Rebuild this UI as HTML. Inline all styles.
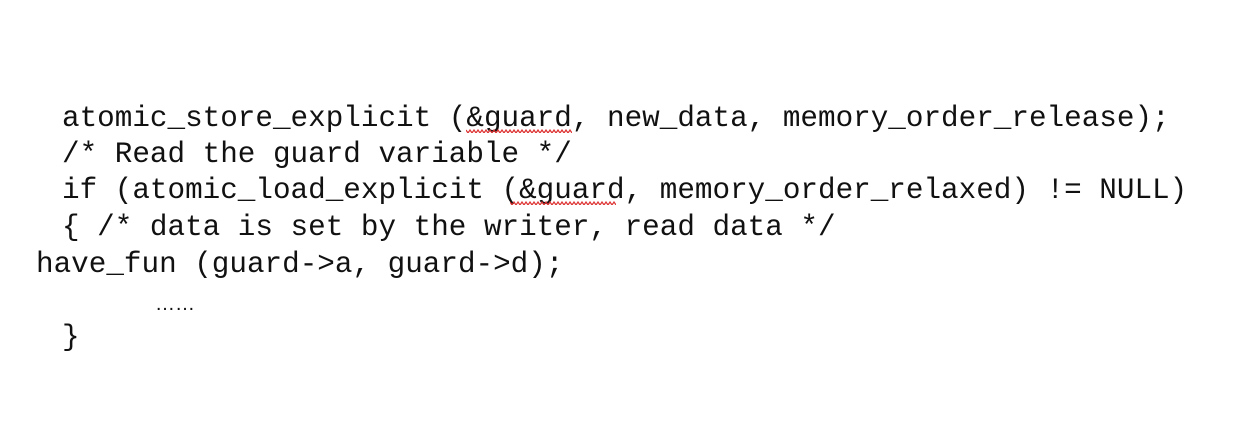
<!DOCTYPE html>
<html><head><style>
body{margin:0;width:1250px;height:424px;background:#fff;position:relative;overflow:hidden}
.l{position:absolute;font-family:"Liberation Mono",monospace;font-size:29.3px;line-height:36px;white-space:pre;color:#111}
.sq{position:absolute;height:4px}
</style></head><body>
<div class="l" style="left:62px;top:101px">atomic_store_explicit (&amp;guard, new_data, memory_order_release);</div>
<div class="l" style="left:62px;top:137px">/* Read the guard variable */</div>
<div class="l" style="left:62px;top:173px">if (atomic_load_explicit (&amp;guard, memory_order_relaxed) != NULL)</div>
<div class="l" style="left:62px;top:210px">{ /* data is set by the writer, read data */</div>
<div class="l" style="left:36px;top:247px">have_fun (guard-&gt;a, guard-&gt;d);</div>
<div style="position:absolute;left:155px;top:293px;font-family:'Liberation Sans',sans-serif;font-size:20px;color:#111">……</div>
<div class="l" style="left:62px;top:320px">}</div>
<svg class="sq" style="left:466px;top:129px" width="106" height="5"><polyline fill="none" stroke="#d33" stroke-width="1.2" points="0,1 2,4 4,1 6,4 8,1 10,4 12,1 14,4 16,1 18,4 20,1 22,4 24,1 26,4 28,1 30,4 32,1 34,4 36,1 38,4 40,1 42,4 44,1 46,4 48,1 50,4 52,1 54,4 56,1 58,4 60,1 62,4 64,1 66,4 68,1 70,4 72,1 74,4 76,1 78,4 80,1 82,4 84,1 86,4 88,1 90,4 92,1 94,4 96,1 98,4 100,1 102,4 104,1 106,4"/></svg>
<svg class="sq" style="left:510px;top:201px" width="106" height="5"><polyline fill="none" stroke="#d33" stroke-width="1.2" points="0,1 2,4 4,1 6,4 8,1 10,4 12,1 14,4 16,1 18,4 20,1 22,4 24,1 26,4 28,1 30,4 32,1 34,4 36,1 38,4 40,1 42,4 44,1 46,4 48,1 50,4 52,1 54,4 56,1 58,4 60,1 62,4 64,1 66,4 68,1 70,4 72,1 74,4 76,1 78,4 80,1 82,4 84,1 86,4 88,1 90,4 92,1 94,4 96,1 98,4 100,1 102,4 104,1 106,4"/></svg>
</body></html>
